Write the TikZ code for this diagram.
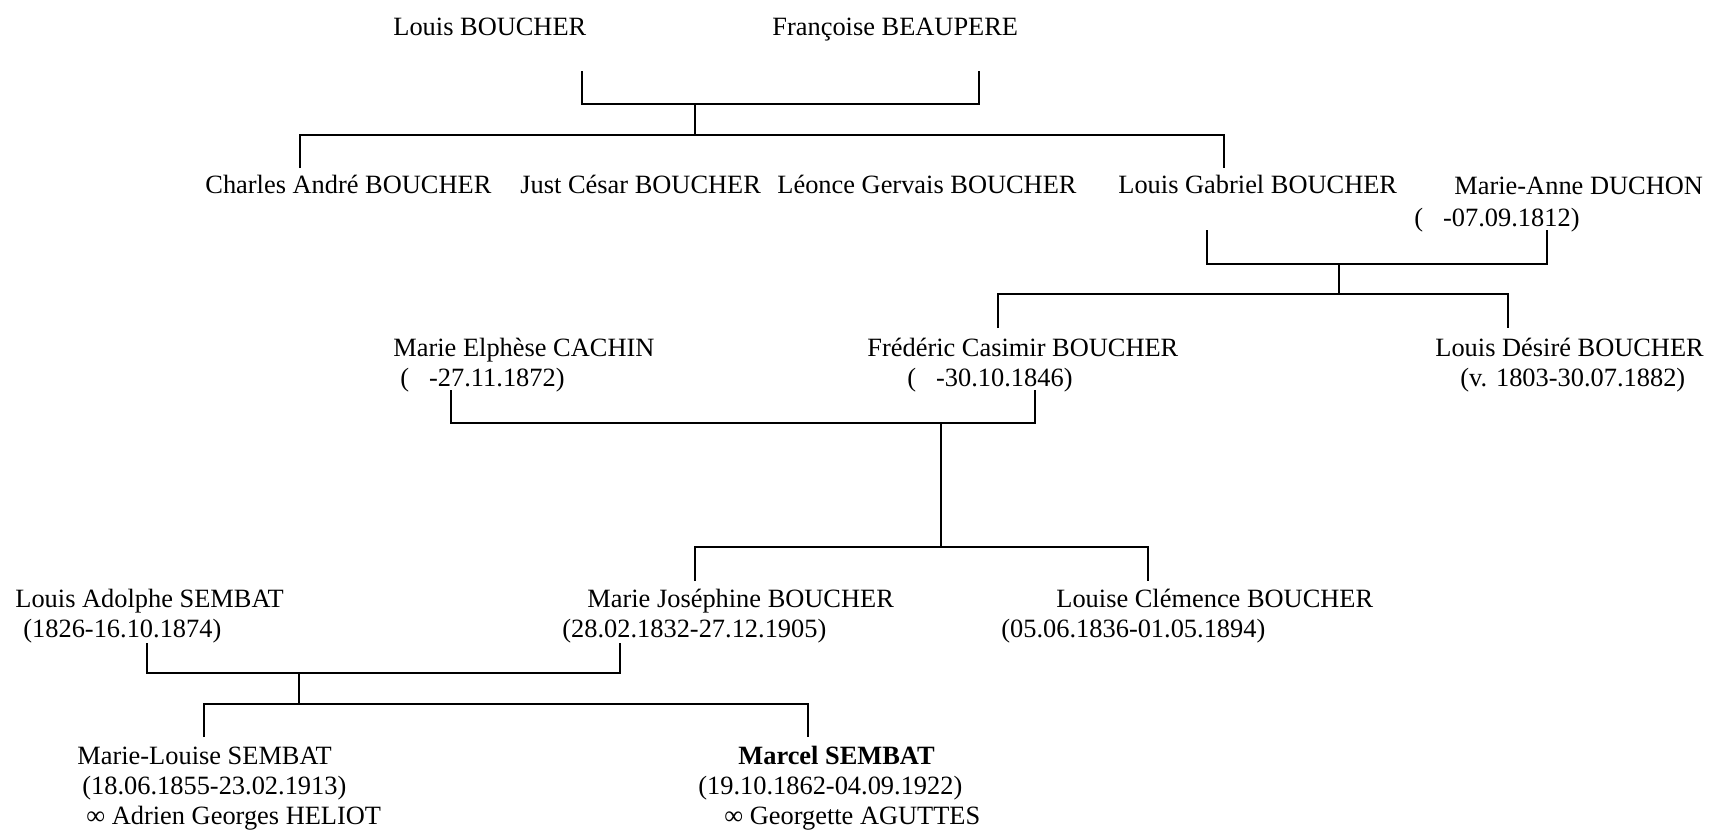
\documentclass[tikz,border=0pt]{standalone}
\usepackage{fontspec}
\setmainfont{Liberation Serif}

\begin{document}
\begin{tikzpicture}[x=0.5pt, y=-0.5pt, font=\fontsize{13.2}{15}\selectfont]
		\tikzstyle{person} = [anchor=base west, inner sep=0pt, align=left]
		\tikzstyle{link} = [line width=0.55pt]
		
		\useasboundingbox (0,0) rectangle (1709,830);
		
		% base = last line of each name
		\node[person]	at (393, 35)	(p0)	{Louis BOUCHER};
		\node[person]	at (772, 35)	(p1)	{Françoise BEAUPERE};
		
		\node[person]	at (205, 193)	(p2)	{Charles André BOUCHER};
		\node[person]	at (520, 193)	(p3)	{Just César BOUCHER};
		\node[person]	at (777, 193)	(p4)	{Léonce Gervais BOUCHER};
		\node[person]	at (1118, 193)	(p5)	{Louis Gabriel BOUCHER};
		\node[person]	at (1414, 226)	(p6)	{\hspace*{20pt}Marie-Anne DUCHON \\[1pt] (\hspace{10pt}-07.09.1812)};
		
		\node[person]	at (393, 386)	(p7)	{Marie Elphèse CACHIN \\ \hspace*{3.5pt}(\hspace{10pt}-27.11.1872)};
		\node[person]	at (867, 386)	(p8)	{Frédéric Casimir BOUCHER \\ \hspace*{20pt}(\hspace{10pt}-30.10.1846)};
		\node[person]	at (1435, 386)	(p9)	{Louis Désiré BOUCHER \\ \hspace*{12.5pt}(v. 1803-30.07.1882)};
		
		\node[person]	at (15, 637)	(p10)	{Louis Adolphe SEMBAT \\ \hspace*{4pt}(1826-16.10.1874)};
		\node[person]	at (562, 637)	(p11)	{\hspace*{12.5pt}Marie Joséphine BOUCHER \\ (28.02.1832-27.12.1905)};
		\node[person]	at (1001, 637)	(p12)	{\hspace*{27.5pt}Louise Clémence BOUCHER \\ (05.06.1836-01.05.1894)};
		
		\node[person]	at (77, 824)	(p13)	{Marie-Louise SEMBAT \\ \hspace*{2.5pt}(18.06.1855-23.02.1913) \\ \hspace*{4.5pt}∞ Adrien Georges HELIOT};
		\node[person]	at (698, 824)	(p14)	{\hspace*{20pt}\textbf{Marcel SEMBAT} \\ (19.10.1862-04.09.1922) \\ \hspace*{13pt}∞ Georgette AGUTTES};
		
		% couple and children points
		\coordinate (u0) at (582, 71);
		\coordinate (u1) at (979, 71);
		\coordinate (m0) at (695, 104);
		\coordinate (s0) at (695, 135);
		\coordinate (d2) at (300, 168);
		\coordinate (d5) at (1224, 168);
		
		\coordinate (u5) at (1207, 230);
		\coordinate (u6) at (1547, 230);
		\coordinate (m1) at (1339, 264);
		\coordinate (s1) at (1339, 294);
		\coordinate (d8) at (998, 328);
		\coordinate (d9) at (1508, 328);
		
		\coordinate (u7) at (451, 390);
		\coordinate (u8) at (1035, 390);
		\coordinate (m2) at (941, 423);
		\coordinate (s2) at (941, 547);
		\coordinate (d11) at (695, 581);
		\coordinate (d12) at (1148, 581);
		
		\coordinate (u10) at (147, 643);
		\coordinate (u11) at (620, 643);
		\coordinate (m3) at (299, 673);
		\coordinate (s3) at (299, 704);
		\coordinate (d13) at (204, 737);
		\coordinate (d14) at (808, 737);
		
		\draw [link] (u0) |- (m0) -| (u1);
		\draw [link] (m0) -- (s0);
		\draw [link] (d2) |- (s0) -| (d5);
		
		\draw [link] (u5) |- (m1) -| (u6);
		\draw [link] (m1) -- (s1);
		\draw [link] (d8) |- (s1) -| (d9);
		
		\draw [link] (u7) |- (m2) -| (u8);
		\draw [link] (m2) -- (s2);
		\draw [link] (d11) |- (s2) -| (d12);
		
		\draw [link] (u10) |- (m3) -| (u11);
		\draw [link] (m3) -- (s3);
		\draw [link] (d13) |- (s3) -| (d14);
		
	\end{tikzpicture}
\end{document}
